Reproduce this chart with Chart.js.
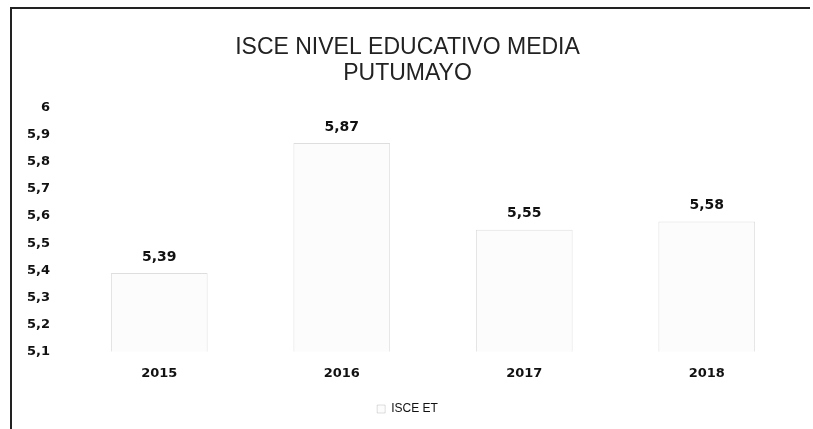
<!DOCTYPE html>
<html>
<head>
<meta charset="utf-8">
<script src="https://cdn.jsdelivr.net/npm/chart.js@4.4.1/dist/chart.umd.min.js"></script>
<style>
  html, body { margin: 0; padding: 0; background: #fff; }
  #wrap { position: relative; width: 813px; height: 429px; }
  #frame {
    position: absolute; left: 10px; top: 7px; right: 3px; bottom: -2px;
    border-left: 2px solid #222; border-top: 2px solid #222;
  }
  canvas { position: absolute; left: 0; top: 0; }
</style>
</head>
<body>
<div id="wrap">
  <div id="frame"></div>
  <canvas id="isceChart" width="813" height="429"></canvas>
</div>
<script>
// Datos del gráfico
const years = ['2015', '2016', '2017', '2018'];
const isceValues = [5.39, 5.87, 5.55, 5.58];
const titleLines = ['ISCE NIVEL EDUCATIVO MEDIA', 'PUTUMAYO'];
const seriesName = 'ISCE ET';

function comma(v) {
    return String(Number(Number(v).toFixed(2))).replace('.', ',');
}

// Etiquetas de valor encima de cada barra
const valueLabels = {
    id: 'valueLabels',
    afterDatasetsDraw(chart) {
        const ctx = chart.ctx;
        const meta = chart.getDatasetMeta(0);
        ctx.save();
        ctx.font = 'bold 14px "DejaVu Sans"';
        ctx.fillStyle = '#111';
        ctx.textAlign = 'center';
        ctx.textBaseline = 'bottom';
        meta.data.forEach(function (bar, i) {
            ctx.fillText(comma(isceValues[i]), bar.x, bar.y - 9);
        });
        ctx.restore();
    }
};

const ctxIsce = document.getElementById('isceChart');
if (ctxIsce) {
    new Chart(ctxIsce, {
        type: 'bar',
        data: {
            labels: years,
            datasets: [{
                label: seriesName,
                data: isceValues,
                backgroundColor: '#fcfcfc',
                borderColor: 'rgba(0, 0, 0, 0.13)',
                borderWidth: 1,
                categoryPercentage: 0.53,
                barPercentage: 1
            }]
        },
        options: {
            responsive: false,
            animation: false,
            layout: { padding: { left: 17, right: 15, top: 34, bottom: 4 } },
            plugins: {
                title: {
                    display: true,
                    text: titleLines,
                    color: '#222',
                    font: { family: '"Liberation Sans"', size: 23, weight: 'normal', lineHeight: 1.15 },
                    padding: { top: 0, bottom: 21 }
                },
                legend: {
                    position: 'bottom',
                    labels: {
                        color: '#111',
                        boxWidth: 8,
                        boxHeight: 8,
                        padding: 16,
                        font: { family: '"Liberation Sans"', size: 12 }
                    }
                },
                tooltip: { enabled: false }
            },
            scales: {
                x: {
                    grid: { display: false },
                    border: { display: false },
                    ticks: {
                        color: '#111',
                        font: { family: '"DejaVu Sans"', size: 13, weight: 'bold' },
                        padding: 6
                    }
                },
                y: {
                    min: 5.1,
                    max: 6,
                    grid: { display: false },
                    border: { display: false },
                    ticks: {
                        stepSize: 0.1,
                        color: '#111',
                        font: { family: '"DejaVu Sans"', size: 13, weight: 'bold' },
                        padding: 10,
                        callback: function (v) { return comma(v); }
                    }
                }
            }
        },
        plugins: [valueLabels]
    });
}
</script>
</body>
</html>
